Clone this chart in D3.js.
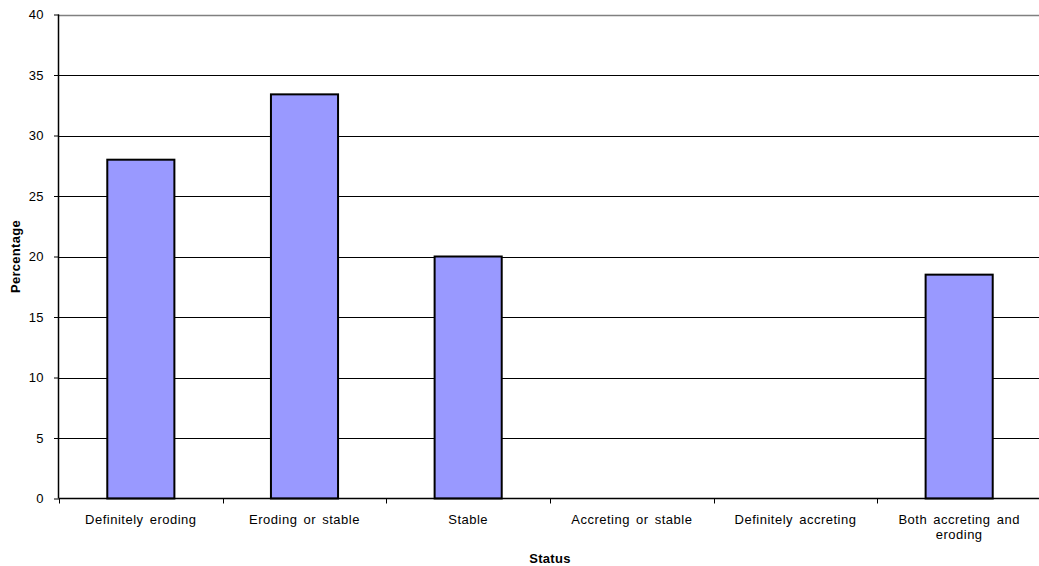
<!DOCTYPE html>
<html><head><meta charset="utf-8">
<script src="https://cdn.jsdelivr.net/npm/d3@7"></script>
<style>
body{margin:0;background:#fff;}
svg{display:block;font-family:"Liberation Sans",Arial,sans-serif;}
</style></head>
<body><svg id="c" width="1039" height="566"></svg>
<script>
const categories = ["Definitely eroding","Eroding or stable","Stable","Accreting or stable","Definitely accreting","Both accreting and eroding"];
const values = [28.0, 33.4, 20.0, 0, 0, 18.5];
const yTicks = [0,5,10,15,20,25,30,35,40];

const svg = d3.select("#c");
const pLeft = 59, pRight = 1041, pTop = 14.5, pBottom = 498.5;
const x = d3.scaleBand().domain(categories).range([pLeft, pRight]).paddingInner(0).paddingOuter(0);
const y = d3.scaleLinear().domain([0,40]).range([pBottom, pTop]);

// gridlines
svg.append("g").selectAll("line").data(yTicks.filter(d=>d>0)).join("line")
  .attr("x1", pLeft).attr("x2", pRight)
  .attr("y1", d=>Math.round(y(d))+0.5).attr("y2", d=>Math.round(y(d))+0.5)
  .attr("stroke", d=>d===40?"#808080":"#000").attr("stroke-width", d=>d===40?1.5:1);

// bars
const bw = x.bandwidth()*0.41;
svg.append("g").selectAll("rect").data(categories.map((c,i)=>({c,v:values[i]})).filter(d=>d.v>0)).join("rect")
  .attr("x", d=>x(d.c)+x.bandwidth()/2-bw/2)
  .attr("width", bw)
  .attr("y", d=>y(d.v))
  .attr("height", d=>y(0)-y(d.v))
  .attr("fill","#9999FF").attr("stroke","#000").attr("stroke-width",2);

// y axis
const ya = svg.append("g").attr("transform",`translate(${pLeft},0)`)
  .call(d3.axisLeft(y).tickValues(yTicks).tickSize(5).tickPadding(10).tickFormat(d3.format("d")));
ya.select(".domain").attr("stroke","#000").attr("stroke-width",1.5).attr("d",`M-0.5,${pBottom}V${pTop}`);
ya.selectAll(".tick line").attr("stroke","#000");
ya.selectAll("text").attr("font-size","13px").attr("fill","#000").attr("letter-spacing","0.4px").attr("font-family","Liberation Sans, Arial, sans-serif");

// x axis
const xa = svg.append("g").attr("transform",`translate(0,${pBottom})`)
  .call(d3.axisBottom(x).tickSize(0).tickPadding(14));
xa.select(".domain").attr("stroke","#000").attr("stroke-width",1.5).attr("d",`M${pLeft},0H${pRight}`);
xa.selectAll(".tick text").remove();
// category separators
svg.append("g").selectAll("line").data(d3.range(categories.length+1)).join("line")
  .attr("x1", i=>Math.round(pLeft + i*x.step())+0.5).attr("x2", i=>Math.round(pLeft + i*x.step())+0.5)
  .attr("y1", pBottom).attr("y2", pBottom+5).attr("stroke","#000");

// category labels with wrapping
const wrapMap = {"Both accreting and eroding":["Both accreting and","eroding"]};
const lab = svg.append("g").attr("font-size","13px").attr("fill","#000").attr("text-anchor","middle")
  .attr("word-spacing","2px").attr("letter-spacing","0.5px");
categories.forEach(c=>{
  const lines = wrapMap[c] || [c];
  const t = lab.append("text").attr("x", x(c)+x.bandwidth()/2).attr("y", pBottom+25);
  lines.forEach((l,i)=>t.append("tspan").attr("x", x(c)+x.bandwidth()/2).attr("dy", i===0?0:15).text(l));
});

// axis titles
svg.append("text").attr("x",(pLeft+pRight)/2).attr("y",563).attr("text-anchor","middle")
  .attr("font-size","13px").attr("font-weight","bold").attr("letter-spacing","0.3px").text("Status");
svg.append("text").attr("transform",`translate(20,${(pTop+pBottom)/2}) rotate(-90)`).attr("text-anchor","middle")
  .attr("font-size","13px").attr("font-weight","bold").attr("letter-spacing","0.3px").text("Percentage");
</script></body></html>
